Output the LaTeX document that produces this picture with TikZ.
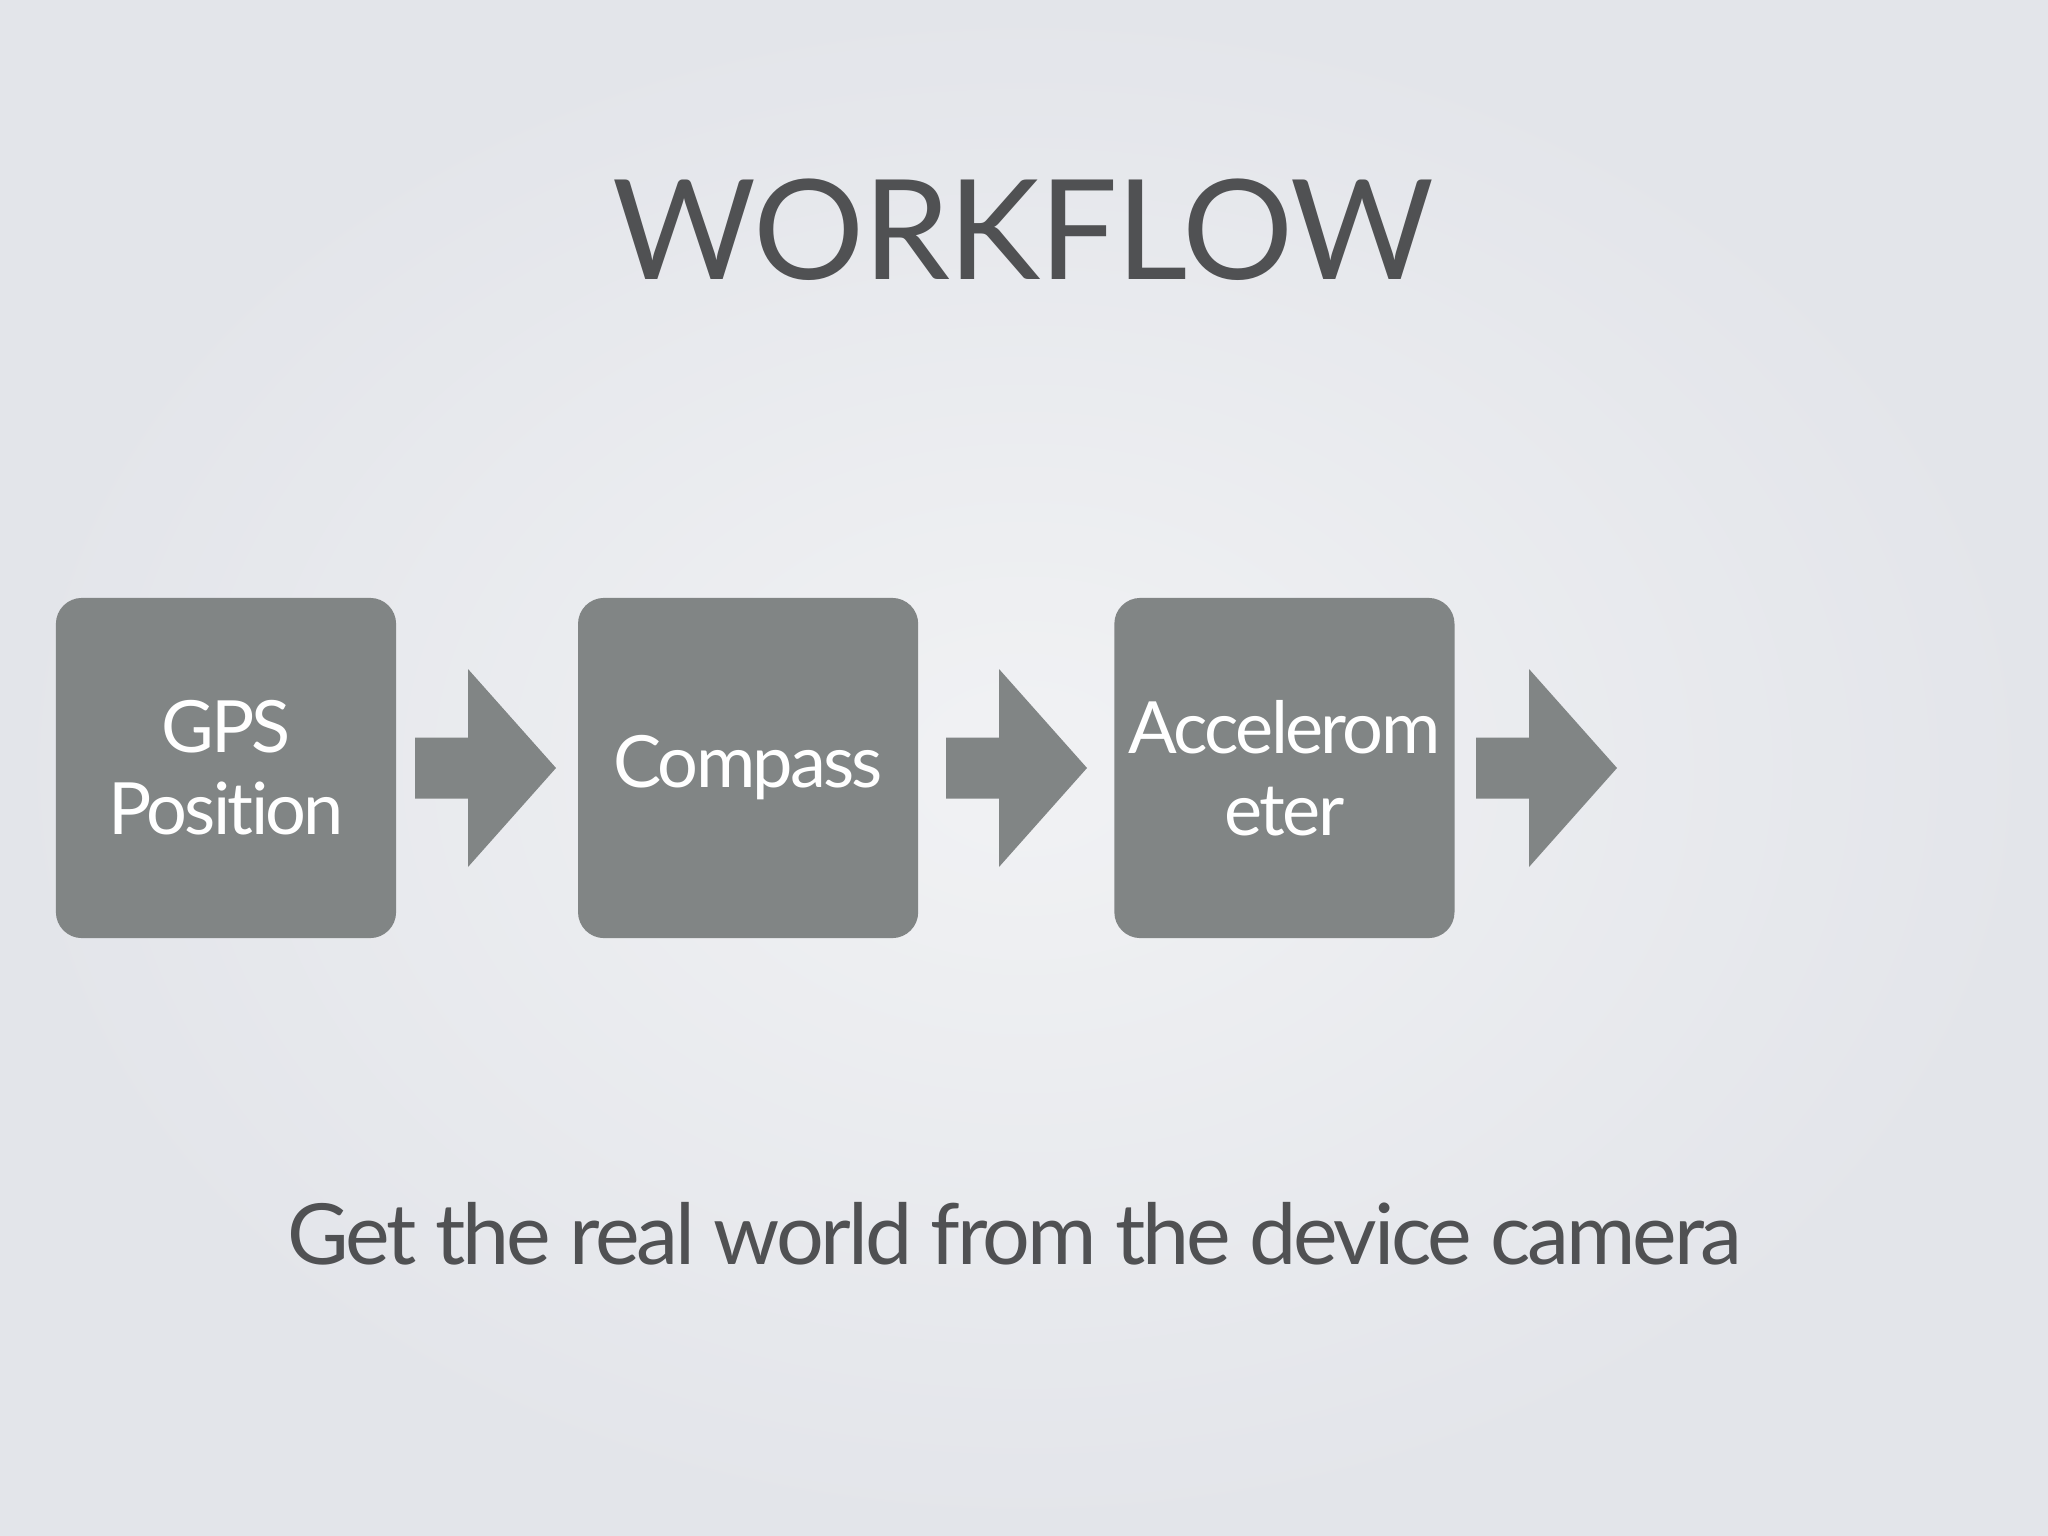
\documentclass[tikz,border=0pt]{standalone}
\usepackage{fontspec}
\setmainfont{Lato}[Ligatures={NoCommon}, LetterSpace=-3.8]
\newfontfamily\titlefont{Lato}[Ligatures={NoCommon}, LetterSpace=-1]
\usetikzlibrary{positioning}
\definecolor{fondo}{HTML}{E3E5EA}
\definecolor{fondoclaro}{HTML}{F1F2F4}
\definecolor{cajagris}{HTML}{818585}
\definecolor{textogris}{HTML}{505153}
\begin{document}
\begin{tikzpicture}[x=0.01cm,y=-0.01cm]
	% formatos
	\tikzstyle{caja} = [fill=cajagris, rounded corners=0.26cm, minimum width=3.4cm, minimum height=3.4cm, inner sep=0pt, text=white, align=center, font=\fontsize{20.5}{23.3}\selectfont]
	\tikzstyle{flecha} = [fill=cajagris]
	\tikzstyle{titulo} = [text=textogris, anchor=base, font=\titlefont\fontsize{39.5}{44}\selectfont]
	\tikzstyle{pie} = [text=textogris, anchor=base, font=\fontsize{24}{28}\selectfont]
	% fondo
	\useasboundingbox (0,0) rectangle (2048,1536);
	\shade[inner color=fondoclaro, outer color=fondo] (0,0) rectangle (2048,1536);
	% textos
	\node [titulo] (title) at (1023,279) {WORKFLOW};
	\node [pie] (caption) at (1015,1264) {Get the real world from the device camera};
	% nodos
	\node [caja] (gps) at (226,768) {GPS\\Position};
	\node [caja] (compass) [right=1.804cm of gps] {Compass};
	\node [caja] (accel) [right=1.946cm of compass] {Accelerom\\eter};
	% flechas
	\foreach \x in {415,946,1476}
		\fill [flecha, shift={(\x,768)}] (0,-30.5) -- (53,-30.5) -- (53,-99) -- (141,0)
			-- (53,99) -- (53,30.5) -- (0,30.5) -- cycle;
\end{tikzpicture}
\end{document}
